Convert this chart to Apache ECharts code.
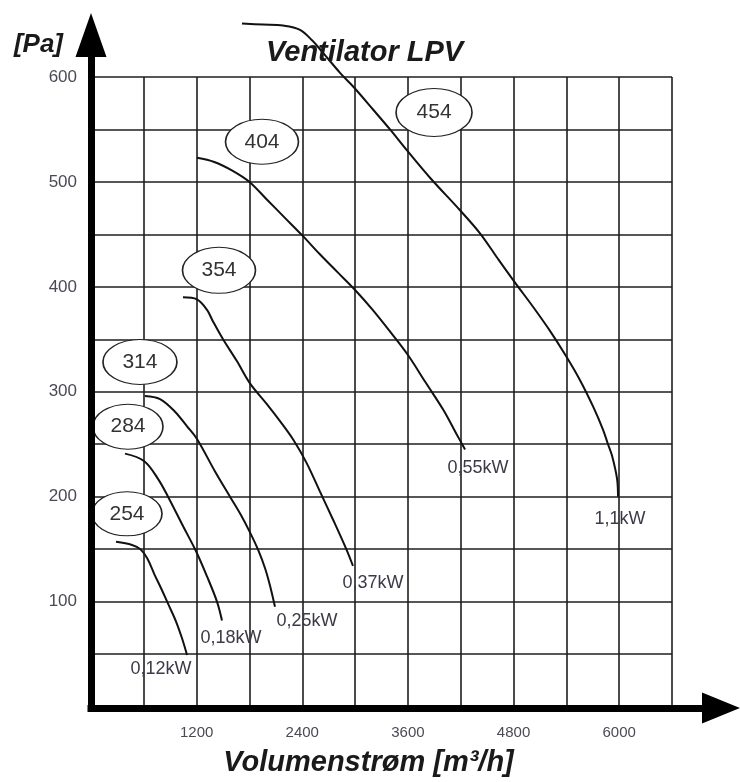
<!DOCTYPE html>
<html>
<head>
<meta charset="utf-8">
<script src="https://cdn.jsdelivr.net/npm/echarts@6/dist/echarts.min.js"></script>
<style>html,body{margin:0;padding:0;background:#fff}#c{width:740px;height:782px}</style>
</head>
<body>
<div id="c"></div>
<script>
// ---- data ----
const fanNames   = ['254', '284', '314', '354', '404', '454'];
const motorPower = ['0,12kW', '0,18kW', '0,25kW', '0,37kW', '0,55kW', '1,1kW'];

const flow254 = [284, 466, 560, 640, 720, 800, 875, 966, 1034, 1091];
const pres254 = [157, 154, 150, 141, 126, 112, 98, 81, 65, 49];

const flow284 = [386, 602, 761, 875, 1045, 1193, 1318, 1431, 1488];
const pres284 = [241, 234, 217, 200, 172, 148, 124, 100, 82];

const flow314 = [613, 784, 954, 1091, 1204, 1409, 1579, 1700, 1806, 1900, 1980, 2040, 2090];
const pres314 = [296, 293, 281, 267, 255, 224, 200, 183, 166, 149, 131, 113, 95];

const flow354 = [1045, 1204, 1318, 1386, 1500, 1659, 1806, 2000, 2147, 2300, 2450, 2600, 2750, 2900, 2976];
const pres354 = [390, 388, 378, 367, 350, 329, 308, 288, 272, 254, 232, 205, 178, 150, 134];

const flow404 = [1204, 1400, 1600, 1800, 2000, 2200, 2400, 2600, 2800, 3000, 3200, 3400, 3600, 3800, 4000, 4150, 4249];
const pres404 = [523, 519, 511, 500, 483, 466, 449, 431, 414, 397, 378, 357, 335, 309, 283, 260, 245];

const flow454 = [1715, 1954, 2181, 2374, 2511, 2636, 2829, 2988, 3204, 3397, 3590, 3851, 4192, 4419, 4612, 4817, 5021, 5214, 5396, 5555, 5703, 5816, 5873, 5919, 5976, 5987];
const pres454 = [651, 650, 649, 645, 635, 623, 604, 590, 569, 550, 530, 504, 473, 451, 428, 404, 381, 358, 334, 311, 286, 264, 250, 239, 217, 200];

const xTickLabels = [1200, 2400, 3600, 4800, 6000];
const yTickLabels = [100, 200, 300, 400, 500, 600];

// ---- styling (not data) ----
const flows = [flow254, flow284, flow314, flow354, flow404, flow454];
const press = [pres254, pres284, pres314, pres354, pres404, pres454];
const ovalAnchor = [0, 0, 0, 0, 0, 9];
const ovalOffset = [[11, -28], [3, -27], [-5, -34], [36, -27], [65, -16], [44, -17]];
const ovalSize   = [[70, 44], [70, 45], [74, 45], [73, 46], [73, 45], [76, 48]];
const powerOffset = [[-26, 14], [9, 18], [32, 14], [20, 17], [13, 19], [2, 22]];

const FONT = '"Liberation Sans", Arial, sans-serif';
const ELLIPSE = 'path://M0,1A1,1,0,1,1,2,1A1,1,0,1,1,0,1Z';

const series = fanNames.map((name, k) => {
  const fx = flows[k], py = press[k];
  const last = fx.length - 1;
  const a = ovalAnchor[k];
  return {
    type: 'line',
    name: name,
    xAxisIndex: 0, yAxisIndex: 0,
    data: fx.map((f, i) => [f, py[i]]),
    smooth: 0.35,
    clip: false,
    showSymbol: false,
    symbol: 'none',
    lineStyle: { color: '#111', width: 2 },
    z: 3,
    markPoint: {
      animation: false,
      data: [
        {
          coord: [fx[a], py[a]],
          symbol: ELLIPSE,
          symbolSize: ovalSize[k],
          symbolOffset: ovalOffset[k],
          itemStyle: { color: '#fff', borderColor: '#222', borderWidth: 1.3 },
          label: { show: true, position: 'inside', formatter: name, color: '#333', fontSize: 21, fontFamily: FONT }
        },
        {
          coord: [fx[last], py[last]],
          symbol: 'circle',
          symbolSize: 1,
          itemStyle: { color: 'rgba(0,0,0,0)' },
          label: { show: true, position: 'inside', offset: powerOffset[k], formatter: motorPower[k], color: '#3a3a48', fontSize: 18, fontFamily: FONT }
        }
      ]
    }
  };
});

const chart = echarts.init(document.getElementById('c'), null, { renderer: 'canvas' });
chart.setOption({
  animation: false,
  backgroundColor: '#fff',
  title: {
    text: 'Ventilator LPV',
    left: 261, top: 33,
    textStyle: { fontFamily: FONT, fontSize: 29, fontWeight: 'bold', fontStyle: 'italic', color: '#1a1a1a' }
  },
  grid: [
    { left: 91, right: 68, top: 77, bottom: 74 },
    { left: 91, right: 38, top: 57, bottom: 74 }
  ],
  xAxis: [
    {
      type: 'value', gridIndex: 0, min: 0, max: 6600, interval: 600,
      name: 'Volumenstrøm [m³/h]', nameLocation: 'middle', nameGap: 56,
      nameTextStyle: { fontFamily: FONT, fontSize: 29, fontWeight: 'bold', fontStyle: 'italic', color: '#1a1a1a', verticalAlign: 'middle', padding: [0, 26, 0, 0] },
      axisLine: { show: false }, axisTick: { show: false },
      axisLabel: { margin: 19, color: '#4a4a55', fontSize: 15, fontFamily: FONT,
        formatter: v => xTickLabels.includes(v) ? String(v) : '' },
      splitLine: { show: true, lineStyle: { color: '#1e1e1e', width: 1.6 } }
    },
    {
      type: 'value', gridIndex: 1, min: 0, max: 1, z: 6,
      axisLine: { show: true, symbol: ['none', 'triangle'], symbolSize: [31, 38], symbolOffset: [0, 19],
        lineStyle: { color: '#000', width: 7, cap: 'square' } },
      axisTick: { show: false }, axisLabel: { show: false }, splitLine: { show: false }
    }
  ],
  yAxis: [
    {
      type: 'value', gridIndex: 0, min: 0, max: 600, interval: 50,
      name: '[Pa]', nameLocation: 'end', nameGap: 32,
      nameTextStyle: { fontFamily: FONT, fontSize: 26, fontWeight: 'bold', fontStyle: 'italic', color: '#1a1a1a', align: 'right', verticalAlign: 'middle', padding: [0, 28, 0, 0] },
      axisLine: { show: false }, axisTick: { show: false },
      axisLabel: { margin: 14, color: '#4a4a55', fontSize: 17, fontFamily: FONT,
        formatter: v => yTickLabels.includes(v) ? String(v) : '' },
      splitLine: { show: true, lineStyle: { color: '#1e1e1e', width: 1.6 } }
    },
    {
      type: 'value', gridIndex: 1, min: 0, max: 1, z: 6,
      axisLine: { show: true, symbol: ['none', 'triangle'], symbolSize: [31, 44], symbolOffset: [0, 22],
        lineStyle: { color: '#000', width: 7, cap: 'square' } },
      axisTick: { show: false }, axisLabel: { show: false }, splitLine: { show: false }
    }
  ],
  series: series
});
</script>
</body>
</html>
